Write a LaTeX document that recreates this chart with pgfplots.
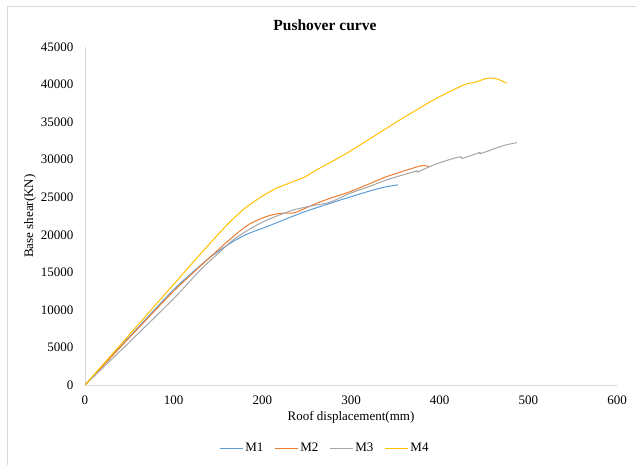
\documentclass[border=0pt]{standalone}
\usepackage{fontspec}
\setmainfont{Liberation Serif}
\usepackage{pgfplots}
\pgfplotsset{compat=1.18}

\definecolor{mone}{HTML}{5B9BD5}
\definecolor{mtwo}{HTML}{ED7D31}
\definecolor{mthree}{HTML}{A5A5A5}
\definecolor{mfour}{HTML}{FFC000}
\definecolor{axgray}{HTML}{D9D9D9}

\begin{document}
\begin{tikzpicture}
  \begin{axis}[
    scale only axis,
    width=532pt, height=338pt,
    xmin=0, xmax=600, ymin=0, ymax=45000,
    xtick={0,100,...,600},
    ytick={0,5000,...,45000},
    scaled ticks=false,
    /pgf/number format/.cd, 1000 sep={}, assume math mode=true,
    /pgfplots/.cd,
    axis lines*=left,
    axis line style={draw=axgray, line width=0.9pt, -},
    major tick length=0pt,
    tick label style={font=\fontsize{13}{15}\selectfont},
    xticklabel style={yshift=-7pt},
    yticklabel style={xshift=-8pt},
    title={Pushover curve},
    title style={at={(axis description cs:0.451,1.047)}, anchor=center,
      font=\bfseries\fontsize{15.5}{18}\selectfont},
    xlabel={Roof displacement(mm)},
    xlabel style={at={(axis description cs:0.5,-0.0947)}, anchor=center,
      font=\fontsize{13}{15}\selectfont},
    ylabel={Base shear(KN)},
    ylabel style={at={(axis description cs:-0.1034,0.5)}, anchor=center,
      font=\fontsize{13}{15}\selectfont},
    legend style={at={(axis description cs:0.451,-0.1864)}, anchor=center,
      draw=none, legend columns=-1, font=\fontsize{13}{15}\selectfont,
      /tikz/every even column/.append style={column sep=9pt}},
    legend image code/.code={\draw[#1] (0pt,0pt) -- (23pt,0pt);},
    every axis plot/.append style={line width=1pt, line join=round, smooth, tension=0.4},
  ]
    \coordinate (sw) at (rel axis cs:0,0);

    % M1
    \addplot[mone] coordinates {
      (0,0) (50,6400) (100,12700) (140,16900) (167,19100) (185,20200)
      (205,21080) (243,22860) (265,23750) (288,24630) (305,25250)
      (325,25960) (340,26400) (353,26650)
    };
    % M2
    \addplot[mtwo] coordinates {
      (0,0) (50,6300) (100,12500) (140,16900) (167,19750) (185,21400)
      (205,22450) (220,22850) (235,22900) (248,23500) (261,24190)
      (280,25000) (299,25740) (320,26750) (340,27730) (363,28620)
      (378,29160) (383,29200) (389,29070)
    };
    % M3
    \addplot[mthree] coordinates {
      (0,0) (50,5700) (100,11500) (130,15300) (150,17500) (167,19300)
      (185,20700) (205,21950) (235,23300) (261,23970) (276,24320)
      (299,25520) (320,26400) (340,27300) (374,28490) (375,28350)
      (393,29290) (412,30050) (424,30400) (425,30150) (445,30950)
      (446,30800) (468,31730) (476,32000) (487,32260)
    };
    % M4
    \addplot[mfour] coordinates {
      (0,0) (50,6700) (100,13400) (130,17420) (160,21300) (180,23500)
      (198,25000) (215,26150) (232,26950) (248,27700) (261,28620)
      (295,30840) (325,33060) (355,35280) (393,37950) (427,39940)
      (442,40380) (453,40830) (461,40830) (468,40610) (476,40170)
    };
    \legend{M1, M2, M3, M4}
  \end{axis}
  \draw[axgray, line width=0.8pt] ([shift={(-78pt,-80pt)}]sw)
    -- ([shift={(-78pt,379pt)}]sw) -- ([shift={(551pt,379pt)}]sw);
  \pgfresetboundingbox
  \path ([shift={(-85pt,-80pt)}]sw) rectangle ([shift={(551pt,385pt)}]sw);
\end{tikzpicture}
\end{document}
